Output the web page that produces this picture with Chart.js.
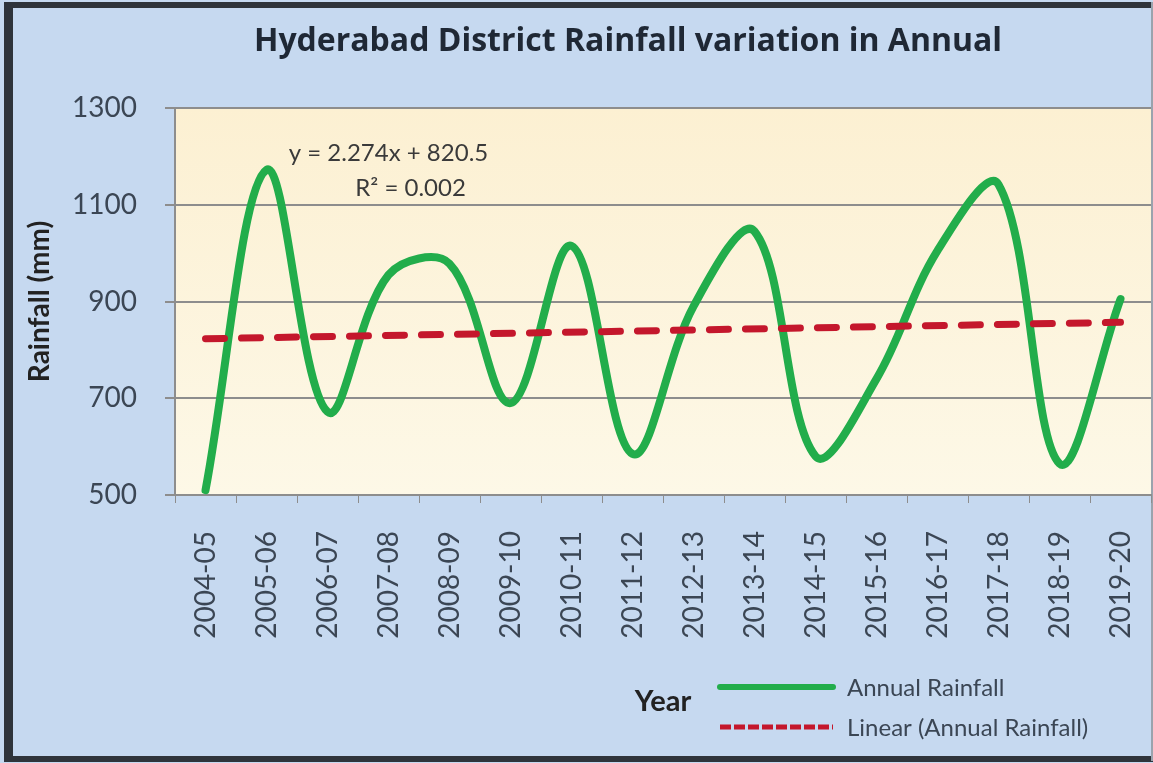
<!DOCTYPE html>
<html>
<head>
<meta charset="utf-8">
<script src="https://cdn.jsdelivr.net/npm/chart.js@4.4.1/dist/chart.umd.min.js"></script>
<style>
  html, body { margin: 0; padding: 0; background: #d8dde4; }
  #wrap { position: absolute; left: 0; top: 0; width: 1153px; height: 763px; }
</style>
</head>
<body>
<div id="wrap"><canvas id="c" width="1153" height="763"></canvas></div>
<script>
const years = ['2004-05','2005-06','2006-07','2007-08','2008-09','2009-10','2010-11','2011-12',
               '2012-13','2013-14','2014-15','2015-16','2016-17','2017-18','2018-19','2019-20'];
const annualRainfall = [510, 1172, 672, 955, 978, 690, 1015, 585, 890, 1045, 580, 740, 1005, 1142, 565, 905];
// Linear trend (y = 2.274x + 820.5) endpoints
const trendRainfall = [823, null, null, null, null, null, null, null, null, null, null, null, null, null, null, 857];
const yTicks = [500, 700, 900, 1100, 1300];
const titleText = 'Hyderabad District Rainfall variation in Annual';
const equationLines = ['y = 2.274x + 820.5', 'R² = 0.002'];

const FONT = 'Lato, "Open Sans", sans-serif';
const TEXT = '#3b4654';

const bgPlugin = {
  id: 'bg',
  beforeDraw(chart) {
    const { ctx, width, height, chartArea: a } = chart;
    ctx.save();
    ctx.fillStyle = '#c6d9f0';
    ctx.fillRect(0, 0, width, height);
    // outer frame
    ctx.fillStyle = '#2f343b';
    ctx.fillRect(4, 2, 9, height - 4);
    ctx.fillRect(4, 2, width - 4, 6);
    ctx.fillRect(4, height - 7, width - 4, 6);
    ctx.fillStyle = '#9aa3ad';
    ctx.fillRect(width - 2, 2, 2, height - 4);
    // plot area
    const g = ctx.createLinearGradient(0, a.top, 0, a.bottom);
    g.addColorStop(0, '#fcf0d2');
    g.addColorStop(1, '#fdf8e7');
    ctx.fillStyle = g;
    ctx.fillRect(a.left, a.top, a.right - a.left, a.bottom - a.top);
    ctx.restore();
  },
  afterDraw(chart) {
    const { ctx } = chart;
    const xs = chart.scales.x, ys = chart.scales.y;
    ctx.save();
    // title
    ctx.fillStyle = '#1f2835';
    ctx.font = 'bold 32px "Open Sans", Lato, sans-serif';
    ctx.textAlign = 'center';
    ctx.textBaseline = 'middle';
    ctx.fillText(titleText, 628, 42);

    // trend equation
    ctx.fillStyle = '#3a3a3a';
    ctx.font = '24px ' + FONT;
    const ex = xs.getPixelForValue(3);
    ctx.fillText(equationLines[0], ex, ys.getPixelForValue(1207));
    ctx.fillText(equationLines[1], ex + 22, ys.getPixelForValue(1135));

    // legend
    const ds = chart.data.datasets;
    const lx0 = 720, lx1 = 833, ly = [687, 727];
    ds.forEach((d, i) => {
      ctx.beginPath();
      ctx.strokeStyle = d.borderColor;
      ctx.lineWidth = i === 0 ? 6 : 5;
      ctx.lineCap = i === 0 ? 'round' : 'butt';
      ctx.setLineDash(i === 0 ? [] : [11, 3]);
      ctx.moveTo(lx0, ly[i]);
      ctx.lineTo(lx1, ly[i]);
      ctx.stroke();
      ctx.setLineDash([]);
      ctx.fillStyle = TEXT;
      ctx.font = '24px ' + FONT;
      ctx.textAlign = 'left';
      ctx.fillText(d.label, 847, ly[i] + 1);
    });
    ctx.restore();
  }
};

new Chart(document.getElementById('c'), {
  type: 'line',
  data: {
    labels: years,
    datasets: [
      {
        label: 'Annual Rainfall',
        data: annualRainfall,
        borderColor: '#22ad4b',
        borderWidth: 8,
        tension: 0.36,
        pointRadius: 0,
        fill: false,
        borderCapStyle: 'round',
        borderJoinStyle: 'round',
        order: 2
      },
      {
        label: 'Linear (Annual Rainfall)',
        data: trendRainfall,
        spanGaps: true,
        borderColor: '#c4172c',
        borderWidth: 7,
        borderDash: [19, 17],
        borderCapStyle: 'round',
        pointRadius: 0,
        tension: 0,
        fill: false,
        order: 1
      }
    ]
  },
  options: {
    responsive: false,
    animation: false,
    layout: { padding: { left: 0, right: 2, top: 108, bottom: 0 } },
    plugins: {
      legend: { display: false },
      tooltip: { enabled: false },
      title: { display: false }
    },
    scales: {
      x: {
        offset: true,
        grid: { offset: true, drawOnChartArea: false, drawTicks: true, tickLength: 8, color: '#8d8d8d', lineWidth: 1 },
        border: { display: true, color: '#8d8d8d', width: 2 },
        ticks: { color: TEXT, font: { family: FONT, size: 28 }, minRotation: 90, maxRotation: 90, padding: 28, autoSkip: false },
        title: { display: true, text: 'Year', color: '#222', font: { family: FONT, size: 29, weight: 'bold' }, padding: { top: 0, bottom: 44 } },
        afterFit(s) { s.height = 268; s.paddingLeft = 0; s.paddingRight = 0; }
      },
      y: {
        min: 500, max: 1300,
        afterBuildTicks(s) { s.ticks = yTicks.map(v => ({ value: v })); },
        grid: { color: '#8d8d8d', lineWidth: 2, tickLength: 10, drawTicks: true },
        border: { display: true, color: '#8d8d8d', width: 2 },
        ticks: { color: TEXT, font: { family: FONT, size: 28 }, padding: 28, callback: v => String(v) },
        title: { display: true, text: 'Rainfall (mm)', color: '#222', font: { family: FONT, size: 28, weight: 'bold' }, padding: { top: 23 } },
        afterFit(s) { s.width = 175; s.paddingTop = 0; s.paddingBottom = 0; }
      }
    }
  },
  plugins: [bgPlugin]
});
</script>
</body>
</html>
